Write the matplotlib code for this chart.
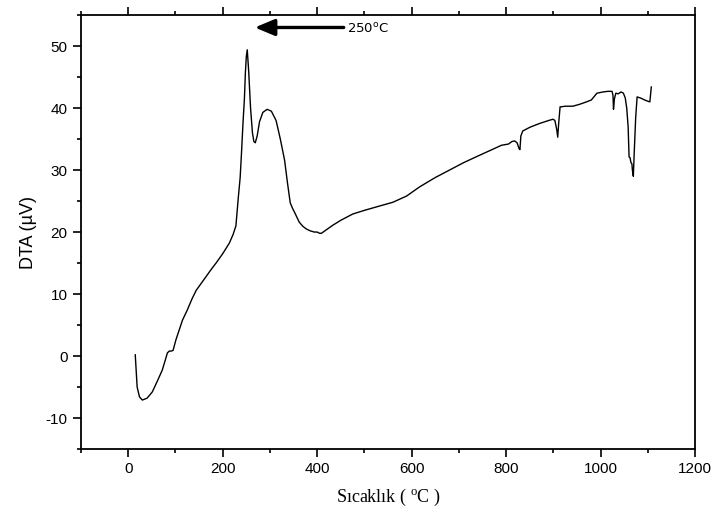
import matplotlib
matplotlib.use("Agg")
import matplotlib.pyplot as plt
from matplotlib.ticker import MultipleLocator

plt.rcParams["axes.unicode_minus"] = False

temperature = [15, 19, 24, 30, 40, 51, 62, 72, 78, 83, 87, 91, 95, 101, 108, 115, 125, 135, 144, 160, 175, 186, 200, 214, 222, 228,
               233, 237, 240, 243, 246, 248, 250, 252, 255, 259, 263, 266, 269, 273, 278, 285, 294, 303, 313, 322, 331, 337,
               343, 348, 352, 357, 362, 370, 377, 385, 394, 400, 405, 409, 420, 433, 450, 475, 500, 532, 560, 589, 617,
               650, 680, 710, 744, 770, 790, 805, 812, 818, 823, 827, 829, 831, 835, 850, 870, 890, 899, 903, 907, 909,
               911, 914, 916, 925, 941, 955, 970, 980, 992, 1005, 1015, 1024, 1026, 1027, 1029, 1032, 1037, 1043, 1048,
               1052, 1055, 1058, 1060, 1062, 1064, 1066, 1067, 1069, 1071, 1074, 1077, 1085, 1093, 1100, 1104, 1107]
dta = [0.2, -5.0, -6.6, -7.1, -6.8, -5.8, -4.0, -2.3, -0.8, 0.5, 0.8, 0.8, 0.9, 2.6, 4.2, 5.8, 7.4, 9.2, 10.6, 12.3, 13.9, 15.0, 16.5, 18.2, 19.6, 21.0,
       25.5, 28.8, 33.0, 37.6, 41.5, 45.6, 48.3, 49.4, 46.0, 40.0, 36.0, 34.6, 34.4, 35.5, 37.8, 39.3, 39.8, 39.5, 38.0, 35.0, 31.6, 28.0,
       24.7, 23.8, 23.2, 22.4, 21.6, 20.9, 20.5, 20.2, 20.0, 20.0, 19.8, 19.8, 20.4, 21.1, 21.9, 22.9, 23.5, 24.2, 24.8, 25.8, 27.3,
       28.8, 30.0, 31.2, 32.4, 33.3, 34.0, 34.2, 34.6, 34.7, 34.4, 33.5, 33.3, 35.5, 36.3, 36.9, 37.5, 38.0, 38.2, 38.0, 36.5, 35.3,
       37.5, 40.2, 40.2, 40.3, 40.3, 40.6, 41.0, 41.3, 42.4, 42.6, 42.7, 42.7, 42.0, 39.8, 41.5, 42.4, 42.3, 42.6, 42.4,
       41.6, 40.0, 37.0, 32.1, 32.0, 31.2, 31.0, 30.0, 29.0, 33.0, 38.5, 41.8, 41.6, 41.3, 41.1, 41.0, 43.4]

xticks = [0, 200, 400, 600, 800, 1000, 1200]
yticks = [-10, 0, 10, 20, 30, 40, 50]
peak_label = "250$^{\\mathregular{o}}$C"
ylabel = "DTA (\u00b5V)"
xlabel = "S\u0131cakl\u0131k ( $^{\\mathregular{o}}$C )"

fig = plt.figure(figsize=(7.16, 5.20), dpi=100)
ax = fig.add_axes([0.113, 0.1365, 0.858, 0.8345])
ax.plot(temperature, dta, color="black", lw=1.0)

ax.set_xlim(-100, 1200)
ax.set_ylim(-15, 55)
ax.set_xticks(xticks)
ax.set_yticks(yticks)
ax.xaxis.set_minor_locator(MultipleLocator(100))
ax.yaxis.set_minor_locator(MultipleLocator(5))
ax.tick_params(axis="both", which="major", direction="out", length=6, width=1.2,
               labelsize=11, top=True, right=False)
ax.tick_params(axis="both", which="minor", direction="out", length=3, width=1.2,
               top=True, right=False)
for lab in ax.get_xticklabels() + ax.get_yticklabels():
    lab.set_fontfamily("Liberation Sans")
for s in ax.spines.values():
    s.set_linewidth(1.3)

ax.set_ylabel(ylabel, fontfamily="Liberation Sans", fontsize=13, labelpad=6)
ax.set_xlabel(xlabel, fontfamily="Liberation Serif", fontsize=13, labelpad=8)

ax.annotate("", xy=(262, 53), xytext=(462, 53),
            arrowprops=dict(arrowstyle="-|>,head_length=1.2,head_width=0.5", color="black", lw=2.4))
ax.text(464, 52.8, peak_label, fontsize=9.5, va="center", ha="left", fontfamily="DejaVu Sans")

fig.savefig("out.png", dpi=100)
